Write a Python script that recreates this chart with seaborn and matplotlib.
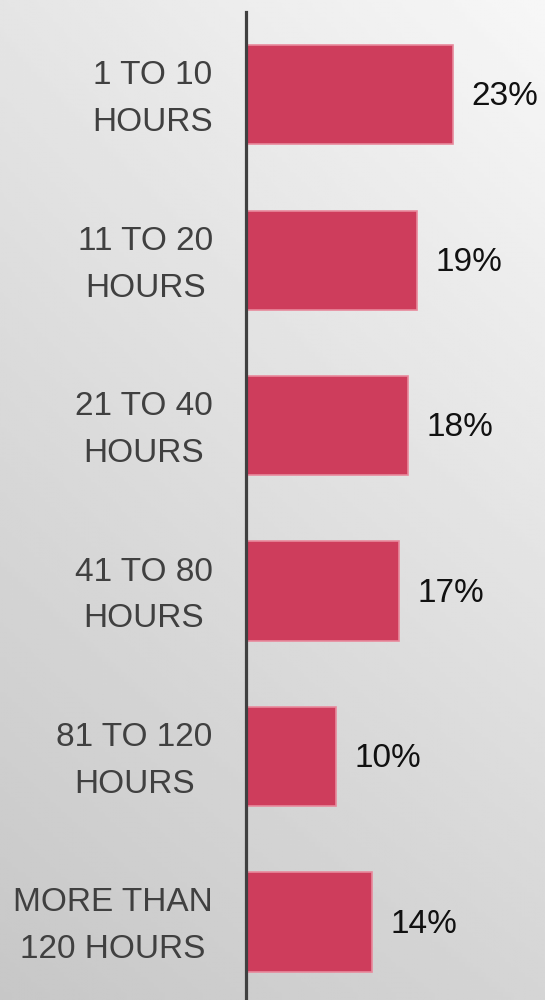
import numpy as np
import pandas as pd
import matplotlib
matplotlib.use("Agg")
import matplotlib.pyplot as plt
import matplotlib.transforms as mtransforms
import seaborn as sns

categories = ["1 TO 10\nHOURS", "11 TO 20\nHOURS", "21 TO 40\nHOURS",
              "41 TO 80\nHOURS", "81 TO 120\nHOURS", "MORE THAN\n120 HOURS"]
values = [23, 19, 18, 17, 10, 14]
value_labels = ["23%", "19%", "18%", "17%", "10%", "14%"]

sns.set_theme(style="white")
plt.rcParams['font.family'] = ['Liberation Sans', 'DejaVu Sans']

fig = plt.figure(figsize=(5.45, 10), dpi=100)

# background gradient
bg = fig.add_axes([0, 0, 1, 1], zorder=-10)
xx, yy = np.meshgrid(np.linspace(0, 1, 200), np.linspace(0, 1, 200))
tl, tr, bl, br = 229, 247, 199, 213
img = (tl * (1 - xx) * (1 - yy) + tr * xx * (1 - yy) + bl * (1 - xx) * yy + br * xx * yy) / 255.0
bg.imshow(img, cmap="gray", vmin=0, vmax=1, aspect="auto", extent=[0, 1, 1, 0])
bg.axis("off")

ax = fig.add_axes([246 / 545, -0.0047, 299 / 545, 0.9927])
ax.patch.set_alpha(0)

df = pd.DataFrame({"cat": categories, "val": values})
sns.barplot(data=df, y="cat", x="val", orient="h", color="#CE3D5C",
            saturation=1, width=0.6, edgecolor="#E8899C", linewidth=1.2, ax=ax)

ax.set_xlim(0, 33.2)
ax.set_ylim(5.5, -0.5)
ax.set_xlabel("")
ax.set_ylabel("")
ax.set_xticks([])

for i, (v, lab) in enumerate(zip(values, value_labels)):
    ax.annotate(lab, xy=(v, i), xytext=(13, -1.5), textcoords="offset points",
                ha="left", va="center", fontsize=24, color="#111111")

ax.set_yticks(range(len(categories)))
ax.set_yticklabels(categories, fontsize=24, color="#404040", multialignment="center",
                   linespacing=1.66)
ax.tick_params(axis="y", length=0, pad=24)
offset = mtransforms.ScaledTranslation(0, 7 / 100, fig.dpi_scale_trans)
for lbl in ax.get_yticklabels():
    lbl.set_transform(lbl.get_transform() + offset)

for s in ["top", "right", "bottom"]:
    ax.spines[s].set_visible(False)
ax.spines["left"].set_color("#404040")
ax.spines["left"].set_linewidth(2.3)

fig.savefig("out.png", dpi=100)
